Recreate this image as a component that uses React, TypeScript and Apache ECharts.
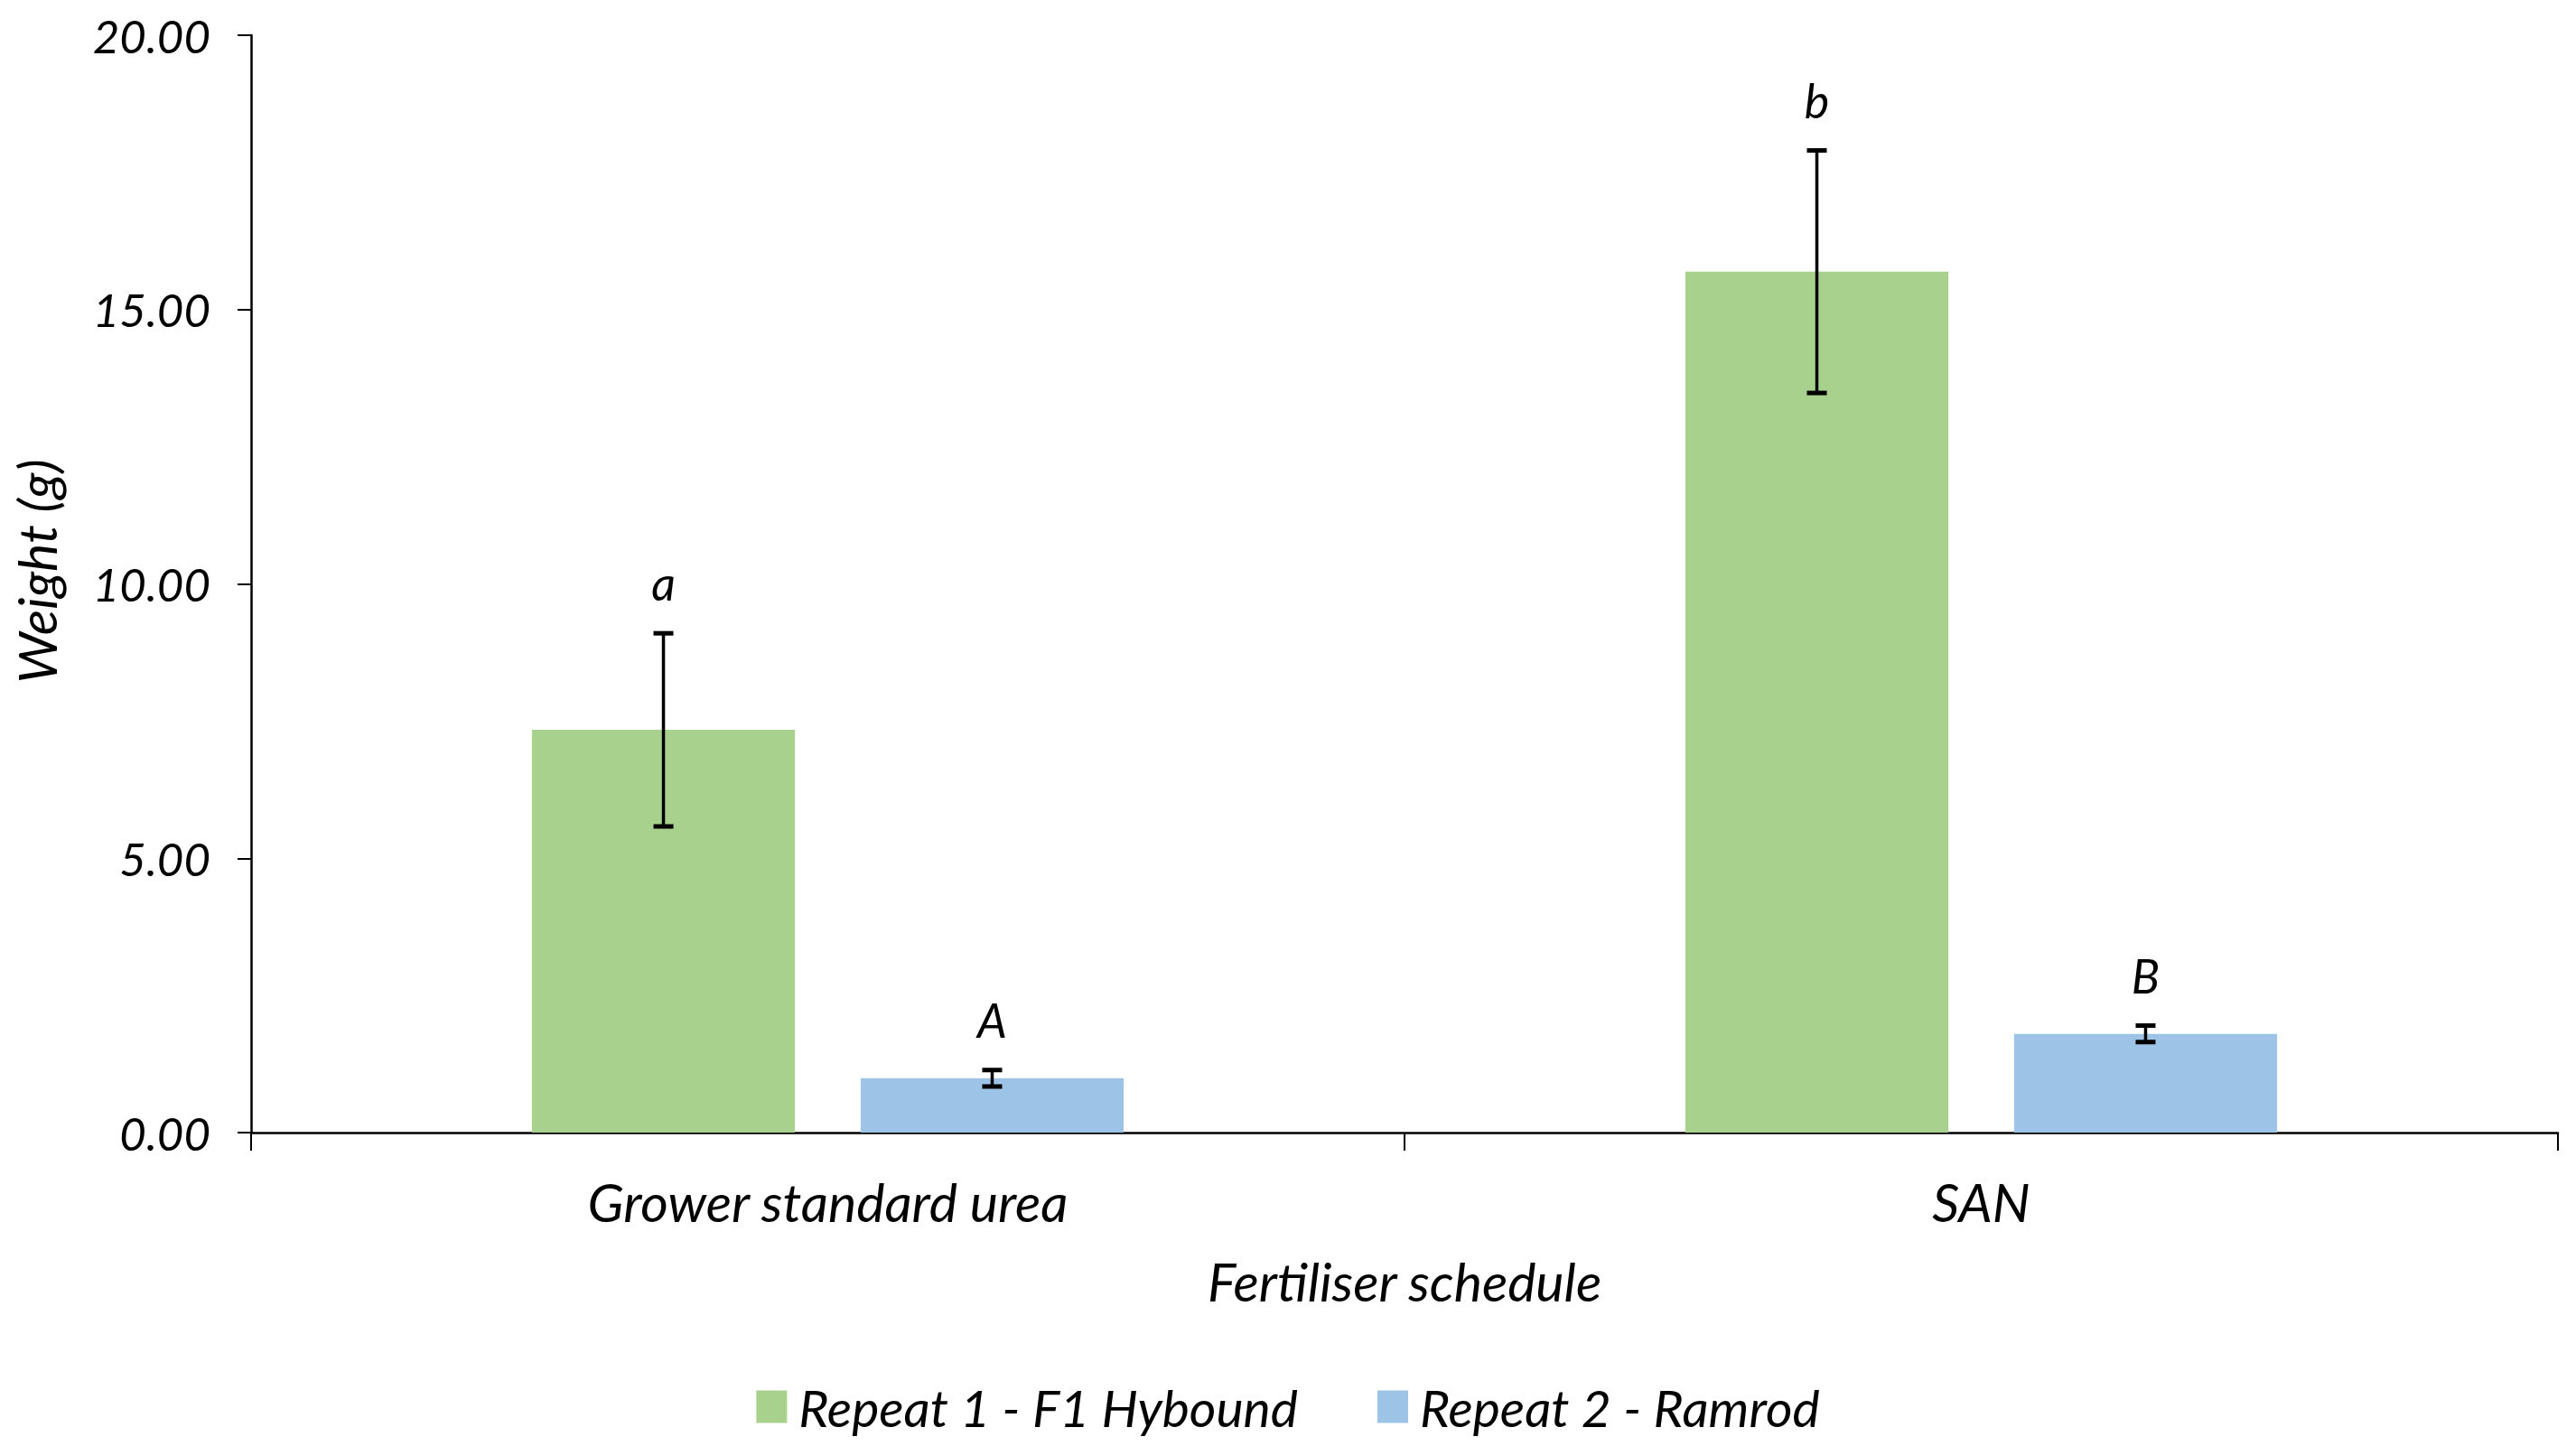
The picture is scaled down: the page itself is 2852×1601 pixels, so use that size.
import React, { useEffect, useRef } from "react";
import * as echarts from "echarts";

const categories = ["Grower standard urea", "SAN"];
const seriesNames = ["Repeat 1 - F1 Hybound", "Repeat 2 - Ramrod"];
const repeat1Means = [7.34, 15.69];
const repeat1Errors = [1.76, 2.21];
const repeat1Letters = ["a", "b"];
const repeat2Means = [0.99, 1.8];
const repeat2Errors = [0.15, 0.15];
const repeat2Letters = ["A", "B"];
const yMin = 0;
const yMax = 20;
const yInterval = 5;
const yAxisName = "Weight (g)";
const xAxisName = "Fertiliser schedule";

const GREEN = "#A9D18E";
const BLUE = "#9DC3E6";
const FONT = "Lato";
const CAT_GAP = 0.487;
const BAR_GAP = 0.25;

function errorSeries(means: number[], errs: number[], letters: string[], sign: number) {
  return {
    type: "custom",
    silent: true,
    z: 10,
    data: means.map((m, i) => [i, m, errs[i]]),
    renderItem: (params: any, api: any) => {
      const idx = api.value(0);
      const mean = api.value(1);
      const err = api.value(2);
      const center = api.coord([idx, mean]);
      const band = api.size([1, 0])[0];
      const barW = (band * (1 - CAT_GAP)) / (2 + BAR_GAP);
      const off = ((barW * (1 + BAR_GAP)) / 2) * sign;
      const x = center[0] + off;
      const top = api.coord([idx, mean + err])[1];
      const bot = api.coord([idx, mean - err])[1];
      const cap = 11;
      const st = { stroke: "#000", lineWidth: 3.5 };
      return {
        type: "group",
        children: [
          { type: "line", shape: { x1: x, y1: top, x2: x, y2: bot }, style: st },
          { type: "line", shape: { x1: x - cap, y1: top, x2: x + cap, y2: top }, style: { ...st, lineWidth: 5 } },
          { type: "line", shape: { x1: x - cap, y1: bot, x2: x + cap, y2: bot }, style: { ...st, lineWidth: 5 } },
          {
            type: "text",
            x,
            y: top - 30,
            style: {
              text: letters[params.dataIndex],
              fontFamily: FONT,
              fontStyle: "italic",
              fontSize: 52,
              fill: "#000",
              textAlign: "center",
              textVerticalAlign: "bottom",
            },
          },
        ],
      };
    },
  };
}

export default function App() {
  const ref = useRef<HTMLDivElement>(null);
  useEffect(() => {
    if (!ref.current) return;
    const chart = echarts.init(ref.current, undefined, { renderer: "svg" });
    const textBase = { fontFamily: FONT, fontStyle: "italic", fontSize: 59, color: "#000" };
    chart.setOption({
      animation: false,
      backgroundColor: "#fff",
      grid: { left: 278, right: 20, top: 39, bottom: 347, containLabel: false },
      legend: {
        data: seriesNames,
        left: "center",
        top: 1524,
        itemWidth: 34,
        itemHeight: 36,
        itemGap: 88,
        icon: "rect",
        textStyle: { ...textBase, fontSize: 57, padding: [0, 0, 0, 8] },
      },
      xAxis: {
        type: "category",
        data: categories,
        name: xAxisName,
        nameLocation: "middle",
        nameGap: 135,
        nameTextStyle: textBase,
        axisLine: { lineStyle: { color: "#000", width: 2.5 } },
        axisTick: { show: true, length: 20, lineStyle: { color: "#000", width: 2 } },
        axisLabel: { ...textBase, margin: 47 },
      },
      yAxis: {
        type: "value",
        min: yMin,
        max: yMax,
        interval: yInterval,
        name: yAxisName,
        nameLocation: "middle",
        nameGap: 208,
        nameRotate: 90,
        nameTextStyle: { ...textBase, padding: [0, 0, 0, 28] },
        axisLine: { show: true, lineStyle: { color: "#000", width: 2.5 } },
        axisTick: { show: true, length: 15, lineStyle: { color: "#000", width: 2 } },
        axisLabel: { ...textBase, fontSize: 51, margin: 45, formatter: (v: number) => v.toFixed(2) },
        splitLine: { show: false },
      },
      series: [
        {
          name: seriesNames[0],
          type: "bar",
          data: repeat1Means,
          itemStyle: { color: GREEN },
          barGap: BAR_GAP * 100 + "%",
          barCategoryGap: CAT_GAP * 100 + "%",
        },
        {
          name: seriesNames[1],
          type: "bar",
          data: repeat2Means,
          itemStyle: { color: BLUE },
          barGap: BAR_GAP * 100 + "%",
          barCategoryGap: CAT_GAP * 100 + "%",
        },
        errorSeries(repeat1Means, repeat1Errors, repeat1Letters, -1),
        errorSeries(repeat2Means, repeat2Errors, repeat2Letters, 1),
      ],
    });
    return () => chart.dispose();
  }, []);
  return (
    <div
      ref={ref}
      style={{ position: "absolute", left: 0, top: 0, width: 2852, height: 1601 }}
    />
  );
}
